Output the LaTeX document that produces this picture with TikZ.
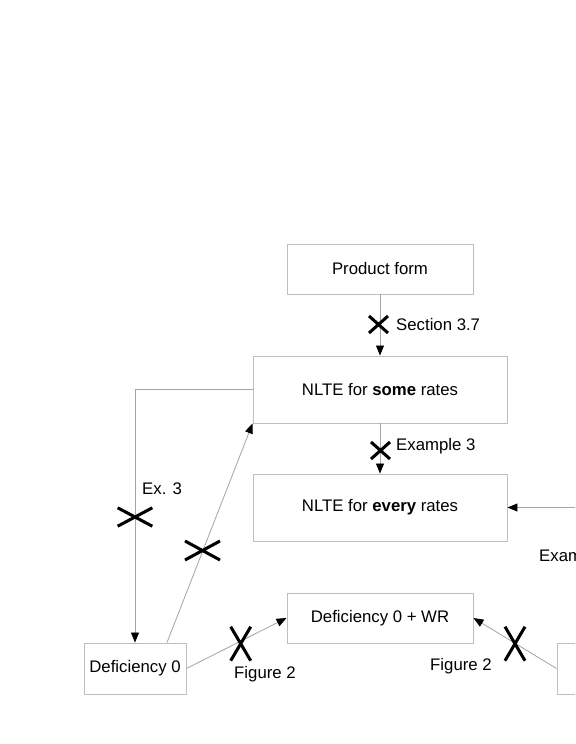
\documentclass[tikz,border=0pt]{standalone}
\usepackage{fontspec}
\setmainfont{Liberation Sans}
\usetikzlibrary{arrows.meta}
\definecolor{boxgray}{RGB}{190,190,190}
\definecolor{linegray}{RGB}{165,165,165}
\tikzset{
  every picture/.style={font=\fontsize{14.3}{17}\selectfont, line join=round, >={Triangle[length=0.3cm,width=0.24cm,color=black]}},
  box/.style={draw=boxgray, line width=0.8pt, minimum width=5.58cm, minimum height=1.5cm, inner sep=0pt},
  widebox/.style={box, minimum width=7.62cm, minimum height=2.01cm},
  smallbox/.style={box, minimum width=3.06cm, minimum height=1.53cm},
  link/.style={draw=linegray, line width=0.7pt, ->},
  xmark/.style={line width=2.6pt, line cap=butt},
  lbl/.style={anchor=west, inner sep=0pt},
  xcross/.pic={\draw[xmark] (-1,-1)--(1,1) (-1,1)--(1,-1);},
}

\begin{document}
\begin{tikzpicture}[x=0.03cm,y=-0.03cm]
\useasboundingbox (0,0) rectangle (575,744);
\clip (0,0) rectangle (575,744);
\node[box] (product) at (380,269) {Product form};
\node[widebox] (nltesome) at (380,389.5) {NLTE for \textbf{some} rates};
\node[widebox] (nlteevery) at (380,507.5) {NLTE for \textbf{every} rates};
\node[box] (defwr) at (380,618) {Deficiency 0 + WR};
\node[smallbox] (defzero) at (135,668.5) {Deficiency 0};
\node[smallbox] (rightbox) at (608,668.5) {};
\coordinate (rightin) at (600,507.5);
\draw[link] (product) -- (nltesome);
\draw[link] (nltesome) -- (nlteevery);
\draw[link] (nltesome.west) -| (defzero.north);
\draw[link] ([xshift=0.96cm]defzero.north) -- (nltesome.south west);
\draw[link] (defzero.east) -- (defwr.west);
\draw[link] (rightbox.west) -- (defwr.east);
\draw[link] (rightin) -- (nlteevery.east);
\pic[xscale=9.5,yscale=8.5] at (378.5,324.5) {xcross};
\pic[xscale=9.5,yscale=8.5] at (380.5,450.5) {xcross};
\pic[xscale=17.3,yscale=9.2] at (135,517) {xcross};
\pic[xscale=17.5,yscale=9.5] at (202.5,550.5) {xcross};
\pic[xscale=10,yscale=17] at (240.7,643.7) {xcross};
\pic[xscale=10,yscale=17] at (515,643.7) {xcross};
\node[lbl] (sec) at (396,325) {Section 3.7};
\node[lbl] (exa) at (396,446) {Example 3};
\node[lbl] (exb) at (142,489) {Ex. 3};
\node[lbl] (figa) at (234,674) {Figure 2};
\node[lbl] (figb) at (430,666) {Figure 2};
\node[lbl] (exc) at (539,556) {Exam};
\end{tikzpicture}
\end{document}
